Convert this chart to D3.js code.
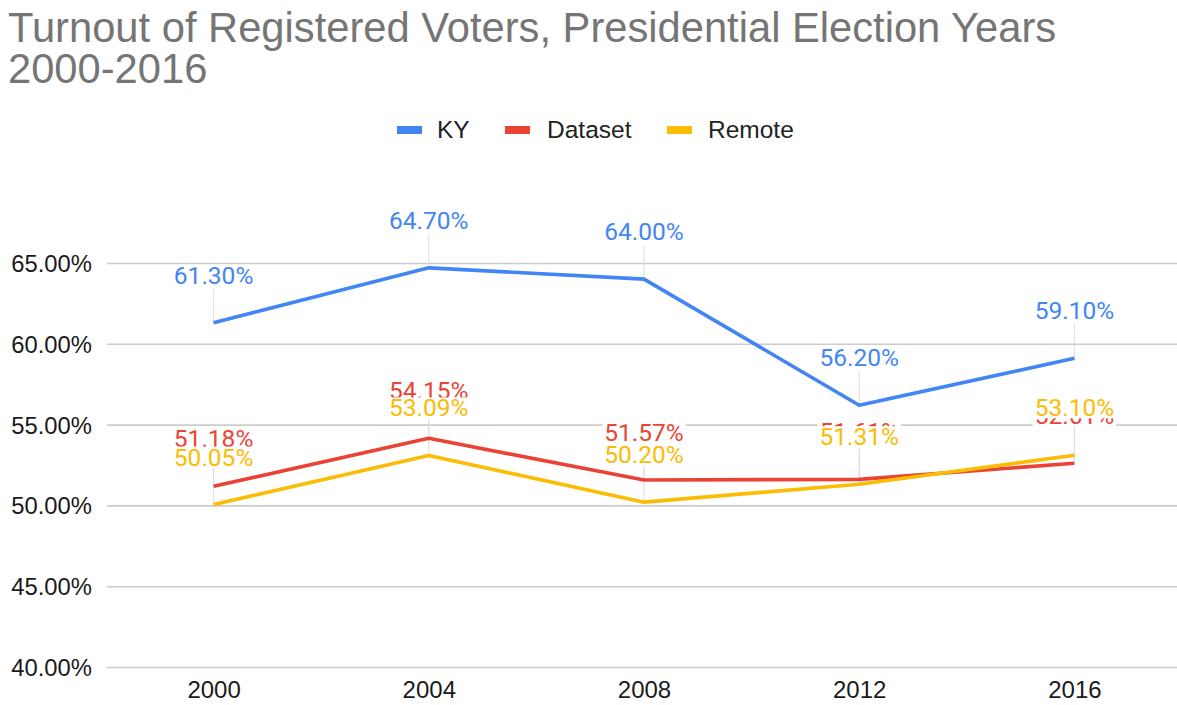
<!DOCTYPE html>
<html>
<head>
<meta charset="utf-8">
<script src="https://cdn.jsdelivr.net/npm/d3@7"></script>
<style>
  html, body { margin: 0; padding: 0; background: #fff; }
  svg { display: block; }
</style>
</head>
<body>
<svg id="chart" width="1177" height="705"></svg>
<script>
// Turnout of registered voters in presidential election years
const years = ["2000", "2004", "2008", "2012", "2016"];
const kyValues = [61.30, 64.70, 64.00, 56.20, 59.10];
const datasetValues = [51.18, 54.15, 51.57, 51.61, 52.61];
const remoteValues = [50.05, 53.09, 50.20, 51.31, 53.10];
const yTicks = [40, 45, 50, 55, 60, 65];
const seriesNames = ["KY", "Dataset", "Remote"];
const seriesColors = ["#4285F4", "#EA4335", "#FBBC04"];

const series = [kyValues, datasetValues, remoteValues].map((values, i) => ({
  name: seriesNames[i],
  color: seriesColors[i],
  values
}));

const svg = d3.select("#chart");
const W = 1177, H = 705;
const SANS = "'Liberation Sans', Arial, sans-serif";

const x = d3.scalePoint().domain(years).range([106, 1182]).padding(0.5);
const y = d3.scaleLinear().domain([40, 65]).range([667, 263]);

// Title
const title = svg.append("g").attr("fill", "#757575")
  .style("font-family", SANS)
  .style("font-size", "41.7px");
title.append("text").attr("x", 8).attr("y", 42)
  .text("Turnout of Registered Voters, Presidential Election Years");
title.append("text").attr("x", 8).attr("y", 83).text("2000-2016");

// Legend
const legendItems = [
  { name: "KY", sx: 397, tx: 437 },
  { name: "Dataset", sx: 505, tx: 547 },
  { name: "Remote", sx: 667, tx: 708 }
];
const legend = svg.append("g")
  .style("font-family", SANS)
  .style("font-size", "24.5px");
legendItems.forEach((item, i) => {
  legend.append("rect").attr("x", item.sx).attr("y", 126)
    .attr("width", 25).attr("height", 8).attr("fill", seriesColors[i]);
  legend.append("text").attr("x", item.tx).attr("y", 138)
    .attr("fill", "#222").text(item.name);
});

// Gridlines and y axis labels
const yAxis = d3.axisLeft(y)
  .tickValues(yTicks)
  .tickSize(-(W - 107))
  .tickPadding(15)
  .tickFormat(d => d.toFixed(2) + "%");
const yG = svg.append("g").attr("transform", "translate(107,0)").call(yAxis);
yG.select(".domain").remove();
yG.selectAll(".tick line").attr("stroke", "#cccccc").attr("stroke-width", 1.6);
yG.selectAll(".tick text")
  .attr("fill", "#1a1a1a")
  .attr("dy", "0.36em")
  .style("font-family", SANS)
  .style("font-size", "23.8px");

// x axis labels
const xAxis = d3.axisBottom(x).tickSize(0).tickPadding(14);
const xG = svg.append("g").attr("transform", "translate(0,667)").call(xAxis);
xG.select(".domain").remove();
xG.selectAll(".tick text")
  .attr("fill", "#1a1a1a")
  .style("font-family", SANS)
  .style("font-size", "24px");

// Leader lines from each point up to its value label
const LABEL_OFFSET = 39;
const leaders = svg.append("g");
series.forEach(s => {
  s.values.forEach((v, i) => {
    leaders.append("line")
      .attr("x1", x(years[i])).attr("x2", x(years[i]))
      .attr("y1", y(v)).attr("y2", y(v) - LABEL_OFFSET + 5)
      .attr("stroke", "#dddddd").attr("stroke-width", 1);
  });
});

// Series lines
const line = d3.line().x((d, i) => x(years[i])).y(d => y(d));
series.forEach(s => {
  svg.append("path").datum(s.values)
    .attr("d", line)
    .attr("fill", "none")
    .attr("stroke", s.color)
    .attr("stroke-width", 3.6)
    .attr("stroke-linejoin", "round");
});

// Value labels with white backing boxes
const labels = svg.append("g")
  .style("font-family", "Roboto, 'Noto Sans', sans-serif")
  .style("font-size", "24.5px");
series.forEach(s => {
  s.values.forEach((v, i) => {
    const g = labels.append("g");
    const bx = g.append("rect").attr("fill", "#fff");
    const t = g.append("text")
      .attr("x", x(years[i]))
      .attr("y", y(v) - LABEL_OFFSET)
      .attr("text-anchor", "middle")
      .attr("fill", s.color)
      .text(v.toFixed(2) + "%");
    const w = t.node().getComputedTextLength();
    bx.attr("x", x(years[i]) - w / 2 - 2)
      .attr("y", y(v) - LABEL_OFFSET - 19)
      .attr("width", w + 4)
      .attr("height", 21);
  });
});
</script>
</body>
</html>
